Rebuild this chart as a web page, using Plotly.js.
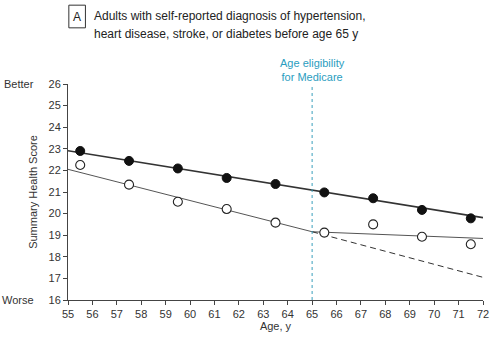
<!DOCTYPE html>
<html><head><meta charset="utf-8">
<script src="https://cdn.plot.ly/plotly-3.0.1.min.js"></script>
<style>html,body{margin:0;padding:0;background:#fff}#c{width:500px;height:342px}</style>
</head><body><div id="c"></div>
<script>
// Data
var ages = [55.5, 57.5, 59.5, 61.5, 63.5, 65.5, 67.5, 69.5, 71.5];
var noDiagnosis = [22.9, 22.44, 22.09, 21.65, 21.37, 20.98, 20.71, 20.17, 19.78];
var withDiagnosis = [22.25, 21.34, 20.55, 20.21, 19.58, 19.12, 19.50, 18.93, 18.58];
// Fitted trend lines
var fitFilledX = [55, 72];
var fitFilledY = [22.91, 19.81];
var fitOpenX = [55, 65, 72];
var fitOpenY = [22.05, 19.16, 18.85];
var projX = [65, 72];
var projY = [19.16, 17.05];
var medicareAge = 65;
var xTicks = [55,56,57,58,59,60,61,62,63,64,65,66,67,68,69,70,71,72];
var yTicks = [16,17,18,19,20,21,22,23,24,25,26];

var traces = [
  {x: fitFilledX, y: fitFilledY, mode: 'lines', line: {color: '#333333', width: 1.7}, hoverinfo: 'skip'},
  {x: fitOpenX, y: fitOpenY, mode: 'lines', line: {color: '#555555', width: 1}, hoverinfo: 'skip'},
  {x: projX, y: projY, mode: 'lines', line: {color: '#333333', width: 1, dash: '6px,4px'}, hoverinfo: 'skip'},
  {x: ages, y: noDiagnosis, mode: 'markers', marker: {symbol: 'circle', size: 9, color: '#111111', line: {color: '#111111', width: 1}}},
  {x: ages, y: withDiagnosis, mode: 'markers', marker: {symbol: 'circle', size: 9, color: '#ffffff', line: {color: '#222222', width: 1.1}}}
];

var ff = 'Liberation Sans, Arial, sans-serif';
var axisFont = {family: ff, size: 11, color: '#333333'};
var titleFont = {family: ff, size: 12, color: '#222222'};
var layout = {
  width: 500, height: 342,
  margin: {l: 68, r: 17, t: 84, b: 42},
  paper_bgcolor: '#ffffff', plot_bgcolor: '#ffffff',
  showlegend: false,
  font: axisFont,
  xaxis: {
    range: [55, 72], tickvals: xTicks, ticktext: xTicks.map(String),
    showgrid: false, zeroline: false, showline: true, linecolor: '#444444', linewidth: 1,
    ticks: 'outside', ticklen: 4, tickcolor: '#444444', tickfont: axisFont,
    title: {text: 'Age, y', font: axisFont, standoff: 3}
  },
  yaxis: {
    range: [16, 26], tickvals: yTicks, ticktext: yTicks.map(String),
    showgrid: false, zeroline: false, showline: true, linecolor: '#444444', linewidth: 1,
    ticks: 'outside', ticklen: 4, tickcolor: '#444444', tickfont: axisFont,
    title: {text: 'Summary Health Score', font: axisFont, standoff: 8}
  },
  shapes: [
    {type: 'line', xref: 'x', yref: 'paper', x0: medicareAge, x1: medicareAge, y0: 0, y1: 1.0,
     line: {color: '#3a9fbd', width: 1, dash: 'dot'}},
    {type: 'rect', xref: 'paper', yref: 'paper', x0: 0.002, x1: 0.042, y0: 1.26, y1: 1.365,
     line: {color: '#333333', width: 1}, fillcolor: 'rgba(0,0,0,0)'}
  ],
  annotations: [
    {xref: 'paper', yref: 'paper', x: 0.022, y: 1.312, text: 'A', showarrow: false,
     font: titleFont, xanchor: 'center', yanchor: 'middle'},
    {xref: 'paper', yref: 'paper', x: 0.057, y: 1.315, xanchor: 'left', yanchor: 'middle', align: 'left', showarrow: false,
     text: 'Adults with self-reported diagnosis of hypertension,', font: titleFont},
    {xref: 'paper', yref: 'paper', x: 0.057, y: 1.232, xanchor: 'left', yanchor: 'middle', align: 'left', showarrow: false,
     text: 'heart disease, stroke, or diabetes before age 65 y', font: titleFont},
    {xref: 'x', yref: 'paper', x: medicareAge, y: 1.135, xanchor: 'center', yanchor: 'top', showarrow: false,
     text: 'Age eligibility<br>for Medicare', font: {family: ff, size: 11, color: '#2a9dc0'}},
    {xref: 'paper', yref: 'y', x: -0.077, y: 26, xanchor: 'right', yanchor: 'middle', showarrow: false,
     text: 'Better', font: axisFont},
    {xref: 'paper', yref: 'y', x: -0.077, y: 16, xanchor: 'right', yanchor: 'middle', showarrow: false,
     text: 'Worse', font: axisFont}
  ]
};
Plotly.newPlot('c', traces, layout, {displayModeBar: false, staticPlot: true});
</script></body></html>
